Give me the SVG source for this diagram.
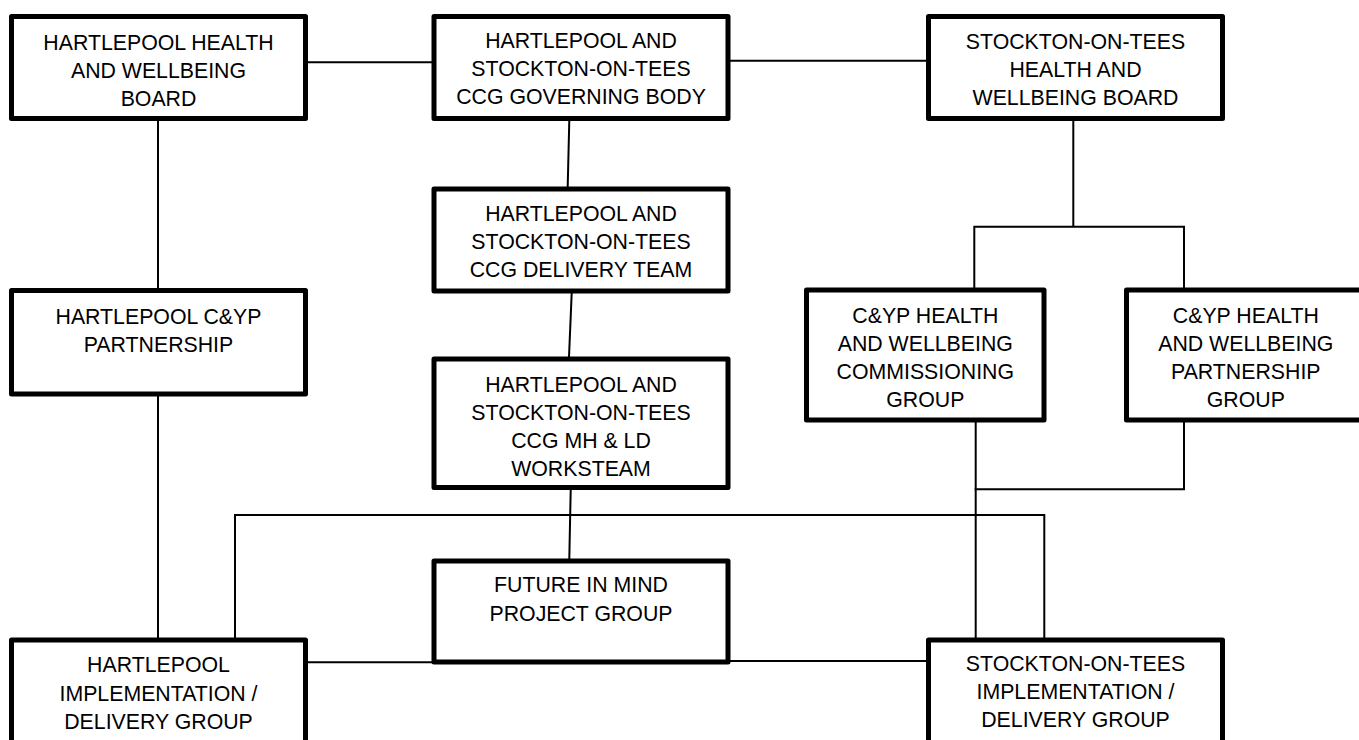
<svg xmlns="http://www.w3.org/2000/svg" width="1359" height="740" viewBox="0 0 1359 740">
<style>
.box{fill:#fff;stroke:#000;stroke-width:5;stroke-linejoin:round}
.ln{fill:none;stroke:#000;stroke-width:2}
text{font-family:"Liberation Sans",Arial,sans-serif;font-size:21.3px;fill:#000;text-anchor:middle}
</style>
<rect width="1359" height="740" fill="#fff"/>
<g id="connectors">
<line class="ln" x1="308" y1="62.3" x2="432" y2="62.3"/>
<line class="ln" x1="730" y1="60.7" x2="926" y2="60.7"/>
<line class="ln" x1="158" y1="121" x2="158" y2="289"/>
<line class="ln" x1="158" y1="396" x2="158" y2="639"/>
<line class="ln" x1="569.3" y1="120" x2="567.7" y2="187"/>
<line class="ln" x1="571.7" y1="293" x2="569" y2="357"/>
<line class="ln" x1="570.7" y1="490" x2="569.3" y2="559"/>
<polyline class="ln" points="235,639 235,515 1044.3,515 1044.3,639"/>
<line class="ln" x1="308" y1="662.3" x2="432" y2="662.3"/>
<line class="ln" x1="730" y1="661" x2="926" y2="661"/>
<line class="ln" x1="1073.3" y1="120" x2="1073.3" y2="226.7"/>
<polyline class="ln" points="974.3,288 974.3,226.7 1184,226.7 1184,288"/>
<line class="ln" x1="975.7" y1="422" x2="975.7" y2="639"/>
<polyline class="ln" points="974.7,489.3 1184,489.3 1184,422"/>
</g>
<g id="hartlepool-hwb">
<rect class="box" x="11.5" y="16.5" width="294" height="102"/>
<text x="158.5" y="50">HARTLEPOOL HEALTH</text>
<text x="158.5" y="77.8">AND WELLBEING</text>
<text x="158.5" y="105.7">BOARD</text>
</g>
<g id="ccg-governing-body">
<rect class="box" x="434" y="16.5" width="294" height="102"/>
<text x="581" y="48.3">HARTLEPOOL AND</text>
<text x="581" y="76.2">STOCKTON-ON-TEES</text>
<text x="581" y="104">CCG GOVERNING BODY</text>
</g>
<g id="stockton-hwb">
<rect class="box" x="928.5" y="16.5" width="294" height="102"/>
<text x="1075.5" y="48.5">STOCKTON-ON-TEES</text>
<text x="1075.5" y="76.6">HEALTH AND</text>
<text x="1075.5" y="104.7">WELLBEING BOARD</text>
</g>
<g id="ccg-delivery-team">
<rect class="box" x="434" y="189" width="294" height="102"/>
<text x="581" y="220.7">HARTLEPOOL AND</text>
<text x="581" y="249">STOCKTON-ON-TEES</text>
<text x="581" y="277.3">CCG DELIVERY TEAM</text>
</g>
<g id="hartlepool-cyp-partnership">
<rect class="box" x="11.5" y="290.5" width="294" height="103.5"/>
<text x="158.5" y="324.4">HARTLEPOOL C&amp;YP</text>
<text x="158.5" y="351.8">PARTNERSHIP</text>
</g>
<g id="cyp-commissioning-group">
<rect class="box" x="806.5" y="290" width="237.5" height="130"/>
<text x="925.3" y="322.7">C&amp;YP HEALTH</text>
<text x="925.3" y="350.8">AND WELLBEING</text>
<text x="925.3" y="378.9">COMMISSIONING</text>
<text x="925.3" y="406.8">GROUP</text>
</g>
<g id="cyp-partnership-group">
<rect class="box" x="1126.5" y="290" width="239" height="130"/>
<text x="1245.8" y="322.7">C&amp;YP HEALTH</text>
<text x="1245.8" y="350.8">AND WELLBEING</text>
<text x="1245.8" y="378.9">PARTNERSHIP</text>
<text x="1245.8" y="406.8">GROUP</text>
</g>
<g id="ccg-mh-ld-workstream">
<rect class="box" x="434" y="359" width="294" height="128.5"/>
<text x="581" y="391.6">HARTLEPOOL AND</text>
<text x="581" y="419.5">STOCKTON-ON-TEES</text>
<text x="581" y="447.5">CCG MH &amp; LD</text>
<text x="581" y="475.7">WORKSTEAM</text>
</g>
<g id="future-in-mind">
<rect class="box" x="434" y="561" width="294" height="101"/>
<text x="581" y="592.3">FUTURE IN MIND</text>
<text x="581" y="621">PROJECT GROUP</text>
</g>
<g id="hartlepool-implementation">
<rect class="box" x="11.5" y="640" width="294" height="104"/>
<text x="158.5" y="672.3">HARTLEPOOL</text>
<text x="158.5" y="701">IMPLEMENTATION /</text>
<text x="158.5" y="729.3">DELIVERY GROUP</text>
</g>
<g id="stockton-implementation">
<rect class="box" x="928.5" y="640" width="294" height="104"/>
<text x="1075.5" y="671">STOCKTON-ON-TEES</text>
<text x="1075.5" y="699.3">IMPLEMENTATION /</text>
<text x="1075.5" y="727.3">DELIVERY GROUP</text>
</g>
</svg>
